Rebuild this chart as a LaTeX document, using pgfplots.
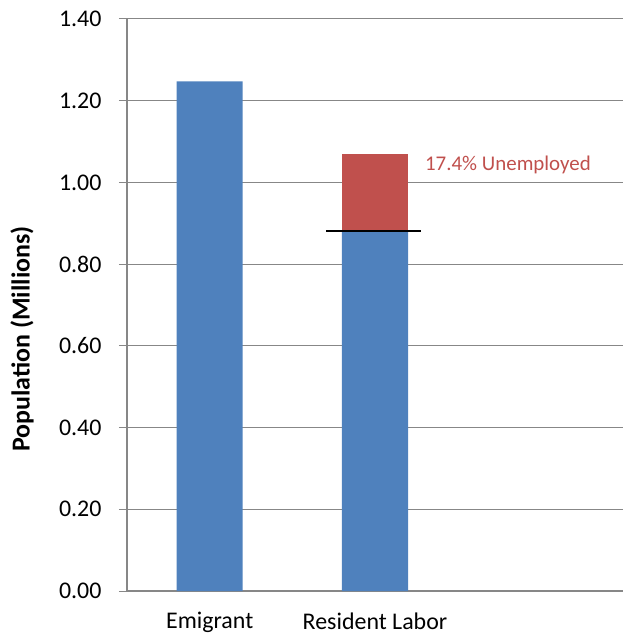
\documentclass[border=0pt]{standalone}
\usepackage{pgfplots}
\pgfplotsset{compat=1.18}
\usepackage{fontspec}
\setmainfont{Carlito}
\definecolor{barblue}{HTML}{4F81BD}
\definecolor{barred}{HTML}{C0504D}
\definecolor{gridgray}{HTML}{878787}
\begin{document}
\begin{tikzpicture}[x=1bp,y=1bp]
\begin{axis}[
  at={(0,0)}, anchor=south west,
  scale only axis,
  width=496bp, height=572bp,
  xmin=-0.5, xmax=2.5,
  ymin=0, ymax=1.4,
  ytick={0,0.2,0.4,0.6,0.8,1.0,1.2,1.4},
  y tick label style={/pgf/number format/fixed, /pgf/number format/fixed zerofill, /pgf/number format/precision=2},
  /pgf/number format/assume math mode=true,
  xtick={0,1},
  xticklabels={Emigrant, Resident Labor},
  major x tick style={draw=none},
  extra x ticks={-0.5,0.5,1.5},
  extra x tick labels={},
  extra x tick style={major tick length=8bp, tick style={draw=gridgray, line width=1bp}, grid=none},
  axis x line*=bottom,
  axis y line*=left,
  axis line style={draw=gridgray, line width=1.2bp, -},
  ymajorgrids,
  grid style={draw=gridgray, line width=1bp},
  tick align=outside,
  major tick length=8bp,
  y tick style={draw=gridgray, line width=1bp},
  tick label style={font=\fontsize{24}{27}\selectfont, text=black},
  yticklabel style={xshift=-14bp},
  xticklabel style={yshift=-10bp},
  ybar stacked,
  bar width=0.4,
  clip=false,
]
\addplot[fill=barblue, draw=none] coordinates {(0,1.247) (1,0.883)};
\addplot[fill=barred, draw=none] coordinates {(0,0) (1,0.187)};
\end{axis}
\begin{axis}[
  at={(0,0)}, anchor=south west,
  scale only axis,
  width=496bp, height=572bp,
  xmin=-0.5, xmax=2.5,
  ymin=0, ymax=1.4,
  hide axis, clip=false,
]
\addplot[black, line width=2bp] coordinates {(0.704,0.882) (1.278,0.882)};
\node[anchor=west, text=barred, font=\fontsize{21}{24}\selectfont, inner sep=0pt] at (axis cs:1.302,1.043) {17.4\% Unemployed};
\end{axis}
\node[rotate=90, font=\bfseries\fontsize{26}{29}\selectfont] at (-105,252) {Population (Millions)};
\pgfresetboundingbox
\path (-127,-46) rectangle (496,591);
\end{tikzpicture}
\end{document}
